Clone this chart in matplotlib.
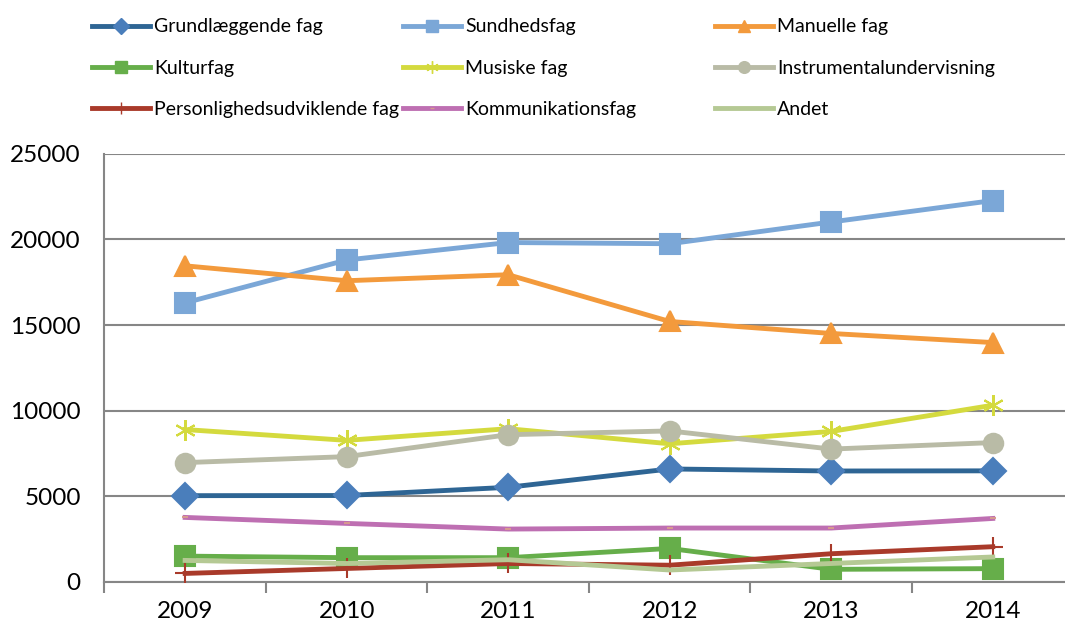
import matplotlib.pyplot as plt
from matplotlib.lines import Line2D
import numpy as np

plt.rcParams['font.family'] = ['Lato', 'DejaVu Sans']

# Data
years = ["2009", "2010", "2011", "2012", "2013", "2014"]
grundl = [5040, 5050, 5530, 6600, 6480, 6490]
sundhed = [16300, 18800, 19820, 19750, 21020, 22270]
manuelle = [18460, 17590, 17940, 15210, 14510, 13980]
kultur = [1510, 1420, 1420, 1960, 740, 780]
musiske = [8900, 8270, 8950, 8070, 8790, 10320]
instrument = [6970, 7320, 8600, 8820, 7760, 8140]
personlig = [500, 790, 1080, 980, 1650, 2060]
kommunikation = [3770, 3420, 3090, 3150, 3150, 3710]
andet = [1260, 1080, 1300, 700, 1080, 1460]

series = [
    ("Grundlæggende fag", grundl, "#2E6594", "D", "#4A7EBB", 13),
    ("Sundhedsfag", sundhed, "#7BA7D7", "s", "#7BA7D7", 14),
    ("Manuelle fag", manuelle, "#F39A3C", "^", "#F39A3C", 14),
    ("Kulturfag", kultur, "#66AE4A", "s", "#66AE4A", 14),
    ("Musiske fag", musiske, "#D4DA3E", (6, 2, 0), "#D4DA3E", 15),
    ("Instrumentalundervisning", instrument, "#B9BBA6", "o", "#B9BBA6", 14),
    ("Personlighedsudviklende fag", personlig, "#A93A2A", "+", "#A93A2A", 14),
    ("Kommunikationsfag", kommunikation, "#BE6FB2", "_", "#D79A8F", 5),
    ("Andet", andet, "#B5C994", "None", "#B5C994", 0),
]

fig = plt.figure(figsize=(10.65, 6.26), dpi=100)
ax = fig.add_axes([0.098, 0.0703, 0.91, 0.684])

x = np.arange(len(years))
handles = []
for name, vals, col, mk, mcol, ms in series:
    ax.plot(x, vals, color=col, lw=3.5, marker=mk, markersize=ms,
            markerfacecolor=mcol, markeredgecolor=mcol, markeredgewidth=1.5,
            solid_joinstyle="round", zorder=3)
    handles.append(Line2D([0], [0], color=col, lw=3.5, marker=mk,
                          markersize=ms * 0.6, markerfacecolor=mcol,
                          markeredgecolor=mcol, label=name))

ax.set_ylim(0, 25000)
ax.set_yticks(np.arange(0, 25001, 5000))
ax.set_xlim(-0.5, 5.5)
ax.set_xticks(x)
ax.set_xticklabels(years)
ax.set_xticks(np.arange(-0.5, 5.6, 1), minor=True)
ax.tick_params(axis="x", which="major", length=0, labelsize=17.5, pad=14)
ax.tick_params(axis="x", which="minor", length=8, color="#868686", width=1.5)
ax.tick_params(axis="y", length=0, labelsize=17.5, pad=17)
ax.grid(axis="y", color="#868686", lw=1.5, zorder=0)
for s in ["top", "right"]:
    ax.spines[s].set_visible(False)
for s in ["left", "bottom"]:
    ax.spines[s].set_color("#868686")
    ax.spines[s].set_linewidth(1.5)

# legend in three columns, row-major order
col_x = [0.069, 0.361, 0.654]
for c in range(3):
    fig.legend(handles=handles[c::3], loc="upper left",
               bbox_to_anchor=(col_x[c], 1.0), frameon=False,
               fontsize=14, handlelength=3.0, handletextpad=0.2,
               labelspacing=1.25, borderaxespad=0.55)

fig.savefig("out.png", dpi=100)
